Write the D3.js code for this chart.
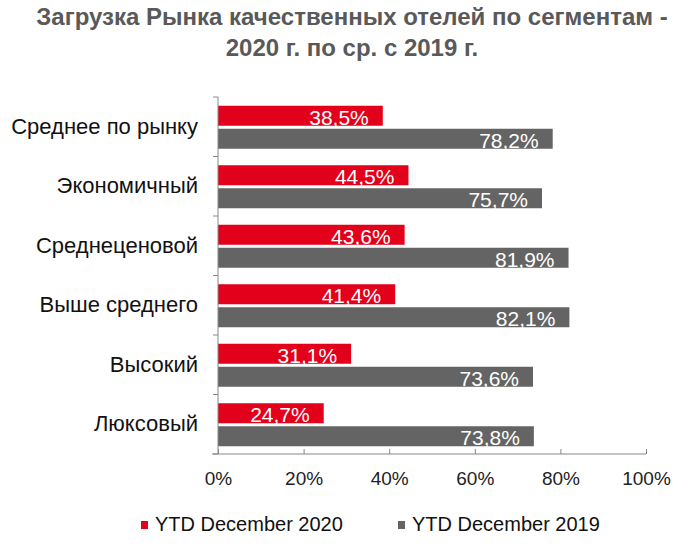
<!DOCTYPE html>
<html><head><meta charset="utf-8">
<script src="https://cdn.jsdelivr.net/npm/d3@7"></script>
<style>body{margin:0;background:#fff;}svg{display:block;font-family:"Liberation Sans",Arial,sans-serif;}</style>
</head><body>
<svg id="c" width="697" height="554"></svg>
<script>
const categories = ["Среднее по рынку","Экономичный","Среднеценовой","Выше среднего","Высокий","Люксовый"];
const series2020 = [38.5,44.5,43.6,41.4,31.1,24.7];
const series2019 = [78.2,75.7,81.9,82.1,73.6,73.8];
const seriesNames = ["YTD December 2020","YTD December 2019"];
const xTicks = [0,20,40,60,80,100];
const titleLines = ["Загрузка Рынка качественных отелей по сегментам -","2020 г. по ср. с 2019 г."];

const colors = ["#E2001A","#646464"];
const svg = d3.select("#c");
const x = d3.scaleLinear().domain([0,100]).range([218,646]);
const y = d3.scaleBand().domain(categories).range([97,454]);
const fmt = v => v.toFixed(1).replace(".",",")+"%";

svg.selectAll("text.title").data(titleLines).join("text")
  .attr("x",352).attr("y",(d,i)=>25+i*31).attr("text-anchor","middle")
  .attr("font-size",24).attr("font-weight","bold").attr("fill","#595959").text(d=>d);

const barH = 20, gap = 3;
const g = svg.append("g");
categories.forEach((c,i)=>{
  const y0 = y(c) + y.bandwidth()/2 - barH - gap/2 + 0.5;
  [series2020[i], series2019[i]].forEach((v,j)=>{
    const yy = y0 + j*(barH+gap);
    g.append("rect").attr("x",x(0)).attr("y",yy).attr("width",x(v)-x(0)).attr("height",barH).attr("fill",colors[j]);
    g.append("text").attr("x",x(v)-14).attr("y",yy+barH-1).attr("text-anchor","end")
      .attr("font-size",21).attr("fill","#fff").text(fmt(v));
  });
});

// x axis
const xa = svg.append("g").attr("transform","translate(0,454)")
  .call(d3.axisBottom(x).tickValues(xTicks).tickFormat(d=>d+"%").tickSize(5).tickSizeOuter(0));
xa.select(".domain").attr("stroke","#888").attr("d","M"+(x(0)-6)+",0H"+x(100));
xa.selectAll(".tick line").attr("stroke","#888").attr("y1",-5).attr("y2",0);
xa.selectAll(".tick text").attr("font-size",19).attr("fill","#222").attr("y",31).attr("dy",null)
  .attr("font-family","Liberation Sans, Arial, sans-serif");

// y axis
const ya = svg.append("g").attr("transform","translate(218,0)");
ya.append("line").attr("x1",0).attr("x2",0).attr("y1",97).attr("y2",454).attr("stroke","#888");
const bounds = categories.map(c=>y(c)).concat([454]);
ya.selectAll("line.t").data(bounds).join("line").attr("class","t")
  .attr("x1",-5).attr("x2",0).attr("y1",d=>d).attr("y2",d=>d).attr("stroke","#888");
svg.selectAll("text.cat").data(categories).join("text").attr("class","cat")
  .attr("x",198).attr("y",d=>y(d)+y.bandwidth()/2+7).attr("text-anchor","end")
  .attr("font-size",22).attr("fill","#111").text(d=>d);

// legend
const legX = [141,398];
seriesNames.forEach((n,i)=>{
  svg.append("rect").attr("x",legX[i]).attr("y",521).attr("width",7).attr("height",8).attr("fill",colors[i]);
  svg.append("text").attr("x",legX[i]+14).attr("y",531).attr("font-size",20).attr("fill","#111").text(n);
});
</script>
</body></html>
